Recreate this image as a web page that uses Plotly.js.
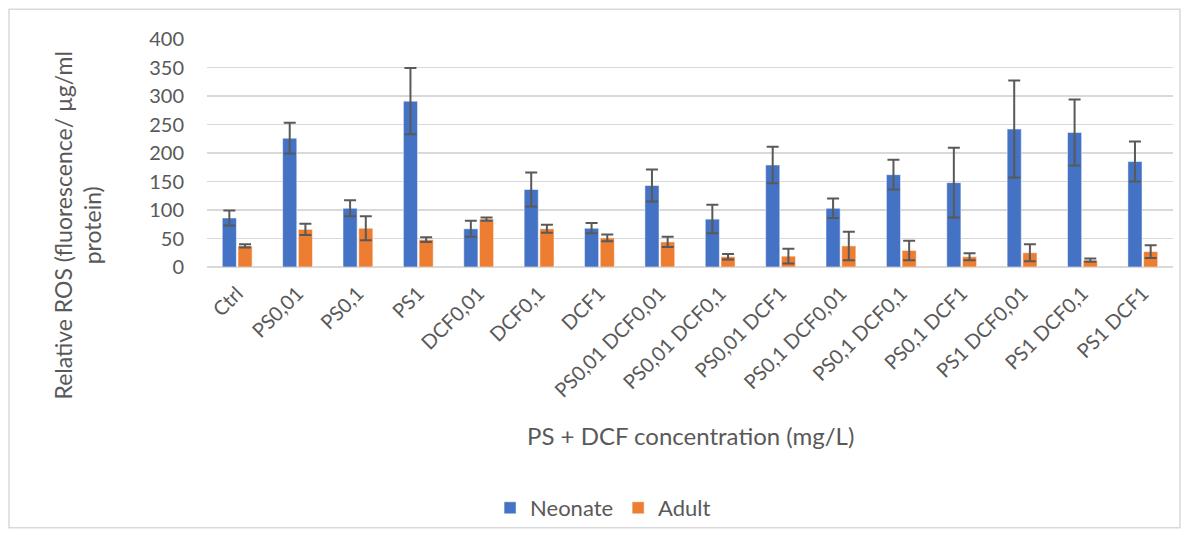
<!DOCTYPE html>
<html>
<head>
<meta charset="utf-8">
<script src="https://cdn.plot.ly/plotly-3.0.1.min.js"></script>
<style>
html,body{margin:0;padding:0;background:#fff;}
#chart{width:1189px;height:539px;}
</style>
</head>
<body>
<div id="chart"></div>
<script>
var categories = ["Ctrl","PS0,01","PS0,1","PS1","DCF0,01","DCF0,1","DCF1","PS0,01 DCF0,01","PS0,01 DCF0,1","PS0,01 DCF1","PS0,1 DCF0,01","PS0,1 DCF0,1","PS0,1 DCF1","PS1 DCF0,01","PS1 DCF0,1","PS1 DCF1"];
var neonate = [86, 226, 103, 291, 67, 136, 68, 143, 84, 179, 103, 162, 148, 242, 236, 185];
var neonateErr = [13, 27, 14, 58, 14, 30, 9, 28, 25, 32, 17, 26, 61, 85, 58, 35];
var adult = [37, 66, 68, 48, 84, 67, 51, 44, 18, 19, 37, 29, 18, 25, 12, 27];
var adultErr = [3, 10, 21, 4, 3, 7, 6, 9, 5, 13, 25, 17, 6, 15, 3, 11];
var yTicks = [0, 50, 100, 150, 200, 250, 300, 350, 400];

var FONT = "Lato, 'Open Sans', sans-serif";
var GREY = "#595959";

var errStyle = function(arr){
  return {type:'data', array:arr, visible:true, color:GREY, thickness:2, width:6};
};

var traces = [
  {type:'bar', name:'Neonate', x:categories, y:neonate, error_y:errStyle(neonateErr),
   marker:{color:'#4472C4', line:{color:'#ffffff', width:0.5}}},
  {type:'bar', name:'Adult', x:categories, y:adult, error_y:errStyle(adultErr),
   marker:{color:'#ED7D31', line:{color:'#ffffff', width:0.5}}}
];

var layout = {
  width:1189, height:539,
  margin:{l:207, r:16, t:39, b:271},
  paper_bgcolor:'#ffffff', plot_bgcolor:'#ffffff',
  font:{family:FONT, color:GREY, size:18},
  barmode:'group', bargap:0.48, bargroupgap:0.1,
  showlegend:true,
  legend:{orientation:'h', x:0.41, xanchor:'center', y:-1.048, yanchor:'middle',
          bgcolor:'rgba(0,0,0,0)', font:{size:22, color:GREY}, itemwidth:30, traceorder:'normal'},
  xaxis:{type:'category', tickangle:-45, tickfont:{size:20, color:GREY},
         showgrid:false, showline:false, ticks:'', ticklabelstandoff:10, automargin:false},
  yaxis:{range:[0,400], tickvals:yTicks, tickfont:{size:20, color:GREY},
         gridcolor:'#d9d9d9', gridwidth:1.5, zeroline:true, zerolinecolor:'#d9d9d9', zerolinewidth:1.5,
         showline:false, ticks:'', ticklabelstandoff:22, automargin:false},
  annotations:[
    {text:'PS + DCF concentration (mg/L)', xref:'paper', yref:'paper', x:0.5, y:-0.738,
     xanchor:'center', yanchor:'middle', showarrow:false, font:{size:24, color:GREY}},
    {text:'Relative ROS (fluorescence/ µg/ml<br>protein)', xref:'paper', yref:'paper',
     x:-0.134, y:0.18, xanchor:'center', yanchor:'middle', textangle:-90, showarrow:false,
     font:{size:23, color:GREY}}
  ],
  shapes:[
    {type:'rect', xref:'paper', yref:'paper', x0:-0.205, x1:1.0072, y0:-1.144, y1:1.131,
     line:{color:'#d9d9d9', width:1.5}, fillcolor:'rgba(0,0,0,0)', layer:'below'}
  ]
};

Plotly.newPlot('chart', traces, layout, {displayModeBar:false, staticPlot:true});
</script>
</body>
</html>
